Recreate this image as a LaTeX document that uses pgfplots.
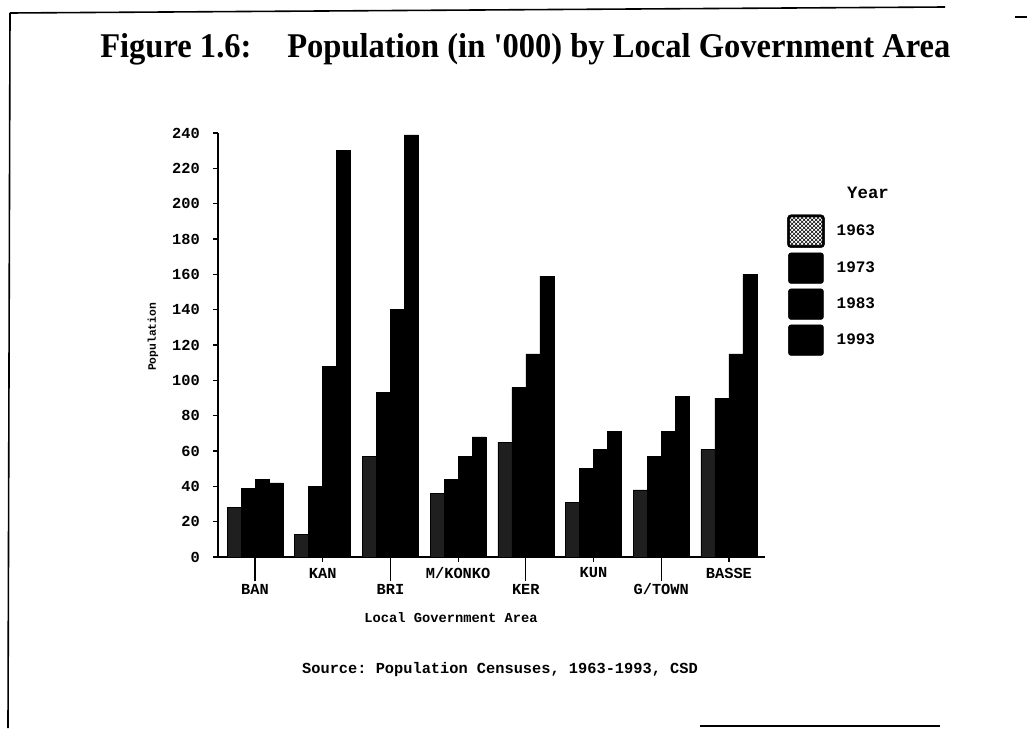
\documentclass[border=0pt]{standalone}
\usepackage{fontspec}
\setmainfont{Liberation Serif}
\setmonofont{Liberation Mono}
\usepackage{graphicx}
\usepackage{pgfplots}
\pgfplotsset{compat=1.18}
\usetikzlibrary{patterns}
\newcommand{\mf}[1]{\ttfamily\bfseries\fontsize{#1}{#1}\selectfont}
\begin{document}
\begin{tikzpicture}
\useasboundingbox (0,0) rectangle (770.25pt,-546pt);
\begin{scope}[x=0.75pt,y=-0.75pt]
  % scanned frame
  \draw[line width=1.2pt] (10,13) -- (945,7);
  \draw[line width=1.2pt] (1015,17) -- (1027,17);
  \draw[line width=1.2pt] (10,13) -- (8,728);
  \draw[line width=1.2pt] (700,726) -- (940,726);
  % title
  \node[anchor=base west, inner sep=0pt] at (100,57)
    {\resizebox{637.5pt}{\height}{\bfseries\fontsize{26}{30}\selectfont Figure 1.6:\hspace{1.1em}Population (in \textquotesingle 000) by Local Government Area}};
  % source
  \node[inner sep=0pt] at (500,670) {\mf{11.5}Source: Population Censuses, 1963-1993, CSD};
  % legend title
  \node[inner sep=0pt] at (868,193) {\mf{13}Year};
\end{scope}
\begin{axis}[
  at={(163.5pt,-417.75pt)}, anchor=south west,
  scale only axis, width=410.25pt, height=318pt,
  xmin=-0.547, xmax=7.533, ymin=0, ymax=240,
  axis x line*=bottom, axis y line*=left,
  axis line style={-, line width=1.1pt},
  tick align=outside,
  ytick={0,20,...,240},
  major tick length=3.75pt,
  tick style={line width=0.9pt, black},
  /pgf/number format/assume math mode=true,
  ticklabel style={font=\mf{11.5}},
  yticklabel style={anchor=east, inner sep=0pt, xshift=-9.75pt},
  xtick={1,3,5,7},
  xticklabels={KAN,M/KONKO,KUN,BASSE},
  xticklabel style={anchor=center, inner sep=0pt, yshift=-8.25pt},
  extra x ticks={0,2,4,6},
  extra x tick labels={BAN,BRI,KER,G/TOWN},
  extra x tick style={major tick length=18pt,
     xticklabel style={anchor=center, inner sep=0pt, yshift=2.25pt}},
  xlabel={Local Government Area},
  xlabel style={at={(axis description cs:0.426,-0.144)}, anchor=center, inner sep=0pt, font=\mf{10.3}},
  ylabel={Population},
  ylabel style={at={(axis description cs:-0.119,0.519)}, anchor=center, inner sep=0pt, font=\mf{8.5}},
  ybar, bar width=0.207,
  legend style={draw=none, fill=none, at={(axis description cs:1.0402,0.808)}, anchor=north west,
     inner sep=0pt, nodes={inner sep=0pt}, column sep=9pt, row sep=3.6pt, font=\mf{12}},
  legend cell align=left,
  legend image code/.code={\draw[rounded corners=2pt, fill=black, draw=black] (0pt,-11.5pt) rectangle (26.25pt,11.5pt);},
]
\addplot[bar shift=-0.3105, fill=black!88, draw=black,
  legend image code/.code={\draw[rounded corners=2pt, fill=white, draw=black, line width=1.8pt, postaction={pattern=crosshatch, pattern color=black}] (0pt,-11.5pt) rectangle (26.25pt,11.5pt);}]
  coordinates {(0,28) (1,13) (2,57) (3,36) (4,65) (5,31) (6,38) (7,61)};
\addplot[bar shift=-0.1035, fill=black, draw=black]
  coordinates {(0,39) (1,40) (2,93) (3,44) (4,96) (5,50) (6,57) (7,90)};
\addplot[bar shift=0.1035, fill=black, draw=black]
  coordinates {(0,44) (1,108) (2,140) (3,57) (4,115) (5,61) (6,71) (7,115)};
\addplot[bar shift=0.3105, fill=black, draw=black]
  coordinates {(0,42) (1,230) (2,239) (3,68) (4,159) (5,71) (6,91) (7,160)};
\legend{1963,1973,1983,1993}
\end{axis}
\end{tikzpicture}
\end{document}
